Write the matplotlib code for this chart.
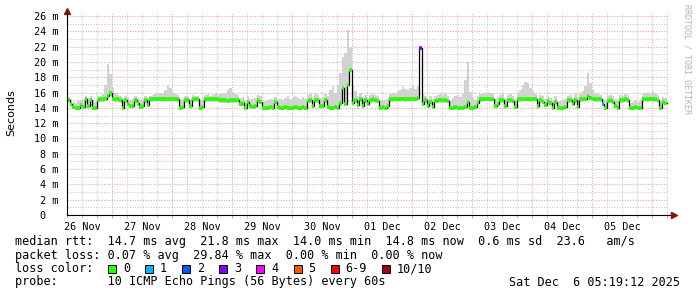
import numpy as np
import matplotlib
matplotlib.use('Agg')
import matplotlib.pyplot as plt
from matplotlib.patches import Rectangle
from matplotlib.ticker import FixedLocator, MultipleLocator, FuncFormatter

# median rtt per hour (ms), 26 Nov 05:19 -> 06 Dec 05:19
median = [
    15.0, 14.5, 14.1, 14.0, 14.0, 14.4, 14.1, 15.1, 14.2, 15.0,
    14.0, 14.0, 15.0, 15.1, 15.1, 15.2, 15.6, 15.9, 15.2, 15.1,
    15.1, 15.0, 14.0, 15.0, 14.5, 14.2, 14.3, 15.0, 14.6, 14.1,
    14.2, 15.0, 14.4, 15.1, 15.1, 15.2, 15.2, 15.2, 15.1, 15.2,
    15.2, 15.2, 15.2, 15.2, 15.1, 14.0, 14.1, 15.0, 15.0, 14.2,
    15.1, 15.1, 15.1, 14.0, 14.1, 15.1, 15.1, 15.1, 15.1, 15.1,
    15.1, 15.0, 15.0, 15.0, 14.9, 15.0, 15.0, 15.0, 15.0, 14.5,
    14.6, 14.0, 14.8, 14.2, 14.1, 14.3, 15.0, 14.8, 14.0, 14.0,
    14.0, 14.1, 14.0, 14.8, 14.1, 14.0, 14.0, 14.1, 14.0, 14.0,
    14.0, 14.1, 14.0, 14.0, 14.1, 14.0, 14.9, 15.0, 14.2, 15.0,
    15.0, 14.2, 14.3, 15.0, 14.1, 14.0, 14.0, 14.1, 14.0, 14.6,
    16.6, 14.5, 17.0, 19.0, 14.6, 15.0, 14.4, 15.1, 14.3, 15.0,
    14.5, 15.0, 15.1, 15.0, 14.9, 14.0, 14.1, 14.0, 14.3, 15.1,
    15.1, 15.2, 15.2, 15.2, 15.2, 15.1, 15.2, 15.2, 15.2, 15.2,
    15.3, 21.8, 14.5, 15.0, 14.2, 14.8, 14.1, 14.9, 15.0, 15.0,
    15.0, 15.0, 14.9, 14.0, 14.0, 14.1, 14.0, 14.0, 14.0, 14.1,
    14.8, 14.0, 14.0, 14.1, 14.7, 15.1, 15.1, 15.2, 15.2, 15.1,
    15.2, 14.2, 14.5, 15.0, 15.0, 14.2, 15.0, 15.0, 14.9, 14.1,
    15.1, 15.1, 15.2, 15.2, 15.2, 15.1, 15.2, 15.2, 14.2, 15.0,
    14.8, 14.4, 14.9, 14.6, 14.0, 14.8, 14.0, 14.0, 14.0, 14.1,
    15.0, 15.0, 14.5, 15.0, 14.1, 15.1, 15.1, 15.2, 15.5, 15.3,
    15.2, 15.1, 15.1, 15.1, 14.5, 14.0, 14.9, 15.0, 14.8, 14.3,
    14.0, 15.0, 15.0, 15.1, 15.0, 14.0, 14.0, 14.1, 14.0, 14.0,
    15.1, 15.2, 15.1, 15.2, 15.1, 15.1, 15.0, 14.0, 14.8, 14.7,
]

# top of the smoke (slowest ping) per hour (ms)
smoke_max = [
    15.4, 15.2, 14.8, 14.7, 14.9, 15.0, 15.2, 15.5, 15.3, 15.6,
    15.0, 14.8, 15.5, 15.6, 15.8, 17.0, 19.7, 18.4, 16.6, 15.9,
    15.7, 15.6, 15.3, 15.5, 15.4, 15.0, 15.2, 15.6, 15.3, 15.0,
    15.2, 15.5, 15.3, 15.6, 15.7, 15.8, 15.8, 15.9, 16.0, 16.4,
    16.8, 16.6, 16.0, 15.8, 15.7, 15.0, 15.2, 15.6, 15.5, 15.1,
    15.7, 15.6, 15.5, 15.0, 15.1, 15.7, 15.8, 15.6, 15.7, 15.8,
    15.7, 15.8, 15.9, 16.0, 16.4, 16.6, 16.0, 15.8, 15.7, 15.3,
    15.4, 15.0, 15.6, 15.2, 15.1, 15.3, 15.7, 15.5, 14.8, 14.9,
    15.0, 15.2, 15.0, 15.4, 15.1, 15.2, 15.0, 15.3, 15.5, 15.2,
    15.4, 15.6, 15.3, 15.1, 15.4, 15.2, 15.7, 15.9, 15.2, 15.8,
    15.7, 15.3, 15.4, 15.8, 15.6, 16.3, 16.8, 16.0, 17.0, 18.5,
    20.6, 21.2, 24.2, 22.0, 17.0, 16.2, 15.6, 16.0, 15.4, 15.7,
    15.2, 15.7, 15.8, 15.7, 15.6, 15.0, 14.9, 15.0, 15.2, 15.8,
    15.9, 16.0, 16.2, 16.4, 16.7, 16.5, 16.3, 16.6, 16.8, 16.5,
    16.9, 22.0, 15.8, 15.6, 15.2, 15.5, 15.0, 15.6, 15.7, 15.8,
    15.7, 15.9, 15.6, 15.0, 15.3, 15.5, 15.7, 15.4, 15.8, 17.6,
    20.0, 16.1, 15.3, 15.0, 15.6, 15.8, 15.9, 16.0, 16.1, 15.9,
    16.0, 15.2, 15.4, 15.7, 15.8, 15.2, 15.7, 15.8, 15.6, 15.0,
    16.0, 16.4, 17.0, 17.4, 17.2, 16.6, 16.2, 15.9, 15.0, 15.7,
    15.5, 15.2, 15.6, 15.3, 15.0, 15.5, 14.8, 14.9, 15.0, 15.1,
    15.6, 15.7, 15.3, 15.8, 15.1, 15.8, 16.2, 16.8, 18.5, 17.2,
    16.4, 16.0, 15.8, 15.7, 15.2, 14.9, 15.6, 15.7, 15.5, 15.1,
    14.9, 15.7, 15.6, 15.8, 15.7, 14.7, 14.8, 14.9, 14.8, 14.9,
    15.8, 16.0, 16.1, 15.9, 16.2, 15.9, 15.7, 14.9, 15.4, 15.3,
]

# hours with lost pings
loss_hours = [141, 214]
loss_counts = [3, 1]

day_labels = ['26 Nov', '27 Nov', '28 Nov', '29 Nov', '30 Nov',
              '01 Dec', '02 Dec', '03 Dec', '04 Dec', '05 Dec']
loss_labels = ['0', '1', '2', '3', '4', '5', '6-9', '10/10']
loss_colors = ['#26ff00', '#00b8ff', '#0059ff', '#7e00ff',
               '#ff00ff', '#ff5500', '#ff0000', '#a10000']

W, H = 697, 297
mono = 'DejaVu Sans Mono'

fig = plt.figure(figsize=(W / 100, H / 100), dpi=100)
fig.patch.set_facecolor('white')
ax = fig.add_axes([67 / W, 82 / H, 602 / W, 202 / H])

n = len(median)
xe = np.arange(n + 1)
med = np.array(median)
smx = np.array(smoke_max)

# smoke
ax.fill_between(xe, np.append(med, med[-1]) - 0.3, np.append(smx, smx[-1]),
                step='post', color='#d2d2d2', lw=0, zorder=2)
# median: black connecting line + loss coloured segments
ax.step(xe, np.append(med, med[-1]), where='post', color='black', lw=0.9, zorder=3)
seg_colors = [loss_colors[0]] * n
for h, c in zip(loss_hours, loss_counts):
    seg_colors[h] = loss_colors[min(c, 6) if c < 10 else 7]
ax.hlines(med, xe[:-1], xe[1:], colors=seg_colors, lw=2.6, zorder=4)

ax.set_xlim(0, 240.8)
ax.set_ylim(0, 26.4)

# grid
ax.xaxis.set_major_locator(FixedLocator(np.arange(18, 241, 24)))
ax.xaxis.set_minor_locator(FixedLocator(np.arange(0, 241, 6)))
ax.yaxis.set_major_locator(MultipleLocator(2))
ax.yaxis.set_minor_locator(MultipleLocator(1))
ax.grid(which='major', color='#eba0a0', linestyle=(0, (1, 1.5)), lw=0.75)
ax.grid(which='minor', color='#c8c8c8', linestyle=(0, (1, 1.5)), lw=0.75)
ax.set_axisbelow(True)

ax.xaxis.set_major_formatter(FuncFormatter(lambda v, p: ''))

def day_fmt(v, p):
    k = int(round(v))
    if (k - 6) % 24 == 0 and 0 <= (k - 6) // 24 < len(day_labels):
        return day_labels[(k - 6) // 24]
    return ''

ax.xaxis.set_minor_formatter(FuncFormatter(day_fmt))
ax.yaxis.set_major_formatter(FuncFormatter(lambda v, p: '0  ' if v == 0 else '%d m' % v))
ax.tick_params(axis='x', which='both', length=2, pad=3, labelsize=7.3, color='#eba0a0')
ax.tick_params(axis='y', which='both', length=0, pad=6, labelsize=7.3)
for lab in ax.get_xticklabels(which='both') + ax.get_yticklabels():
    lab.set_family(mono)

for s in ['top', 'right']:
    ax.spines[s].set_visible(False)
for s in ['left', 'bottom']:
    ax.spines[s].set_color('black')
    ax.spines[s].set_linewidth(0.8)
    ax.spines[s].set_zorder(5)

# axis arrows
ax.plot([1.0, 1.006], [0, 0], color='black', lw=0.8, transform=ax.transAxes, clip_on=False)
ax.plot([1.008], [0], marker='>', ms=4, color='#8b1010', transform=ax.transAxes, clip_on=False)
ax.plot([0], [1.012], marker='^', ms=4, color='#8b1010', transform=ax.transAxes, clip_on=False)

fig.text(11 / W, 1 - 113 / H, 'Seconds', rotation=90, ha='center', va='center', fontsize=8)
fig.text(687 / W, 1 - 4 / H, 'RRDTOOL / TOBI OETIKER', rotation=270, ha='center', va='top',
         fontsize=6, color='#b4b4b4', family=mono)

# legend block
fs = 8.5
cw = 7.1
fig.text(15 / W, 1 - 241 / H,
         'median rtt:  14.7 ms avg  21.8 ms max  14.0 ms min  14.8 ms now  0.6 ms sd  23.6   am/s',
         family=mono, fontsize=fs, va='center')
fig.text(15 / W, 1 - 255 / H,
         'packet loss: 0.07 % avg  29.84 % max  0.00 % min  0.00 % now',
         family=mono, fontsize=fs, va='center')
fig.text(15 / W, 1 - 269 / H, 'loss color:', family=mono, fontsize=fs, va='center')
bx = 108
for lab, col in zip(loss_labels, loss_colors):
    fig.patches.append(Rectangle((bx / W, 1 - 273 / H), 8 / W, 8 / H, facecolor=col,
                                 edgecolor='black', lw=0.7, transform=fig.transFigure))
    fig.text((bx + 15) / W, 1 - 269 / H, lab, family=mono, fontsize=fs, va='center')
    bx += 15 + len(lab) * cw + 15
fig.text(15 / W, 1 - 282 / H,
         'probe:       10 ICMP Echo Pings (56 Bytes) every 60s',
         family=mono, fontsize=fs, va='center')
fig.text(680 / W, 1 - 282 / H, 'Sat Dec  6 05:19:12 2025',
         family=mono, fontsize=fs, va='center', ha='right')

fig.savefig('out.png', dpi=100, facecolor='white')
